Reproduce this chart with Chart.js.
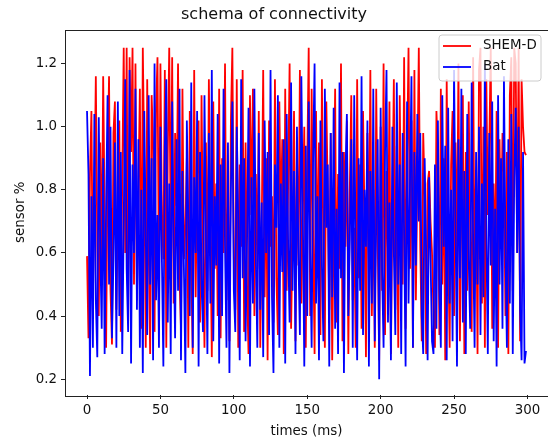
<!DOCTYPE html>
<html>
<head>
<meta charset="utf-8">
<script src="https://cdn.jsdelivr.net/npm/chart.js@4/dist/chart.umd.min.js"></script>
<style>
  html, body { margin: 0; padding: 0; background: #fff; }
  #wrap { width: 548px; height: 441px; }
</style>
</head>
<body>
<div id="wrap"><canvas id="conn" width="548" height="441"></canvas></div>
<script>
// values (times 0..299 ms)
var shemD = [
  0.59, 0.33, 0.85, 1.05, 0.45, 0.78, 1.16, 0.62, 0.40, 0.95,
  0.55, 1.16, 0.72, 0.30, 0.88, 1.16, 0.48, 0.31, 0.98, 1.08,
  0.42, 0.70, 1.02, 0.35, 0.84, 1.25, 0.60, 1.25, 0.38, 1.22,
  0.92, 1.25, 0.50, 1.20, 0.45, 0.80, 1.12, 0.36, 1.25, 0.88,
  0.30, 1.15, 0.62, 0.28, 1.10, 0.95, 0.35, 1.05, 1.22, 0.48,
  1.20, 0.72, 0.58, 1.18, 0.30, 0.92, 1.25, 0.66, 1.22, 0.44,
  0.98, 0.75, 1.20, 0.52, 0.36, 1.12, 0.58, 0.68, 0.90, 0.30,
  1.05, 0.55, 0.28, 1.18, 0.46, 0.85, 1.02, 0.38, 1.10, 0.62,
  0.30, 0.95, 0.48, 1.15, 0.70, 0.27, 1.08, 0.55, 0.82, 0.40,
  1.12, 0.33, 0.90, 0.60, 1.20, 0.45, 0.76, 0.32, 1.02, 1.25,
  0.58, 0.42, 1.15, 0.30, 0.88, 0.62, 1.18, 0.35, 0.95, 0.50,
  0.28, 1.10, 0.72, 1.12, 0.40, 0.85, 0.55, 1.05, 0.30, 0.68,
  1.18, 0.46, 0.90, 0.26, 1.02, 0.62, 0.78, 0.38, 1.15, 0.52,
  0.34, 1.08, 0.70, 0.96, 0.28, 1.12, 0.48, 0.82, 1.20, 0.36,
  0.65, 1.05, 0.32, 0.92, 0.56, 1.18, 0.44, 0.74, 1.00, 0.30,
  0.88, 1.25, 0.40, 1.12, 0.66, 0.28, 1.05, 0.52, 0.95, 0.34,
  1.15, 0.60, 0.30, 1.08, 0.78, 0.42, 0.98, 0.26, 0.70, 1.12,
  0.38, 0.85, 0.55, 1.20, 0.32, 0.92, 0.62, 1.02, 0.28, 0.80,
  1.10, 0.45, 0.68, 0.30, 1.15, 0.52, 0.88, 0.36, 1.05, 0.72,
  0.27, 0.98, 0.58, 1.18, 0.40, 0.80, 0.30, 1.12, 0.64, 0.26,
  1.00, 0.48, 1.20, 0.34, 0.86, 0.60, 1.08, 0.28, 0.75, 1.15,
  0.42, 0.94, 0.30, 1.10, 0.66, 0.50, 1.22, 0.36, 0.90, 1.25,
  0.55, 1.02, 0.30, 1.18, 0.45, 0.84, 1.25, 0.62, 0.32, 0.98,
  0.78, 0.28, 0.82, 0.86, 0.70, 0.60, 0.40, 0.30, 1.05, 0.92,
  0.34, 1.12, 0.50, 0.90, 0.26, 1.15, 0.62, 0.30, 0.88, 1.05,
  0.40, 0.95, 0.58, 1.20, 0.32, 0.78, 1.10, 0.28, 0.92, 0.48,
  1.08, 0.66, 0.35, 1.22, 0.52, 0.86, 0.28, 1.18, 1.25, 0.44,
  1.00, 0.30, 1.15, 0.72, 0.94, 1.25, 0.36, 0.82, 0.55, 1.05,
  0.30, 0.96, 0.62, 0.98, 0.85, 0.40, 0.92, 0.28, 1.10, 1.22,
  0.48, 1.25, 1.20, 0.60, 1.25, 0.32, 1.15, 1.00, 0.92, 0.91
];
var bat = [
  1.05, 0.85, 0.21, 0.78, 0.30, 1.04, 0.45, 0.27, 1.03, 0.62,
  0.36, 0.90, 0.28, 0.75, 1.10, 0.50, 1.00, 0.33, 0.58, 0.95,
  0.30, 1.08, 0.40, 0.92, 0.28, 0.70, 1.15, 0.55, 0.35, 1.18,
  0.25, 0.88, 0.60, 1.12, 0.42, 0.96, 0.30, 0.80, 0.22, 1.05,
  0.66, 0.34, 1.10, 0.50, 0.90, 0.26, 1.20, 0.45, 0.72, 0.30,
  1.00, 0.58, 0.24, 0.94, 1.15, 0.38, 0.82, 0.28, 1.08, 0.62,
  0.33, 0.96, 0.48, 1.12, 0.26, 0.86, 0.55, 0.22, 1.02, 0.70,
  0.40, 1.14, 0.30, 0.84, 0.60, 1.05, 0.24, 0.92, 0.50, 0.35,
  1.10, 0.66, 0.28, 0.98, 0.44, 1.18, 0.32, 0.78, 0.56, 1.04,
  0.25, 0.88, 0.40, 1.12, 0.62, 0.30, 0.95, 0.22, 0.80, 1.08,
  0.48, 0.35, 1.00, 0.70, 0.26, 1.15, 0.52, 0.90, 0.32, 0.64,
  1.06, 0.24, 0.84, 0.44, 1.12, 0.58, 0.30, 0.98, 0.42, 0.76,
  0.27, 1.02, 0.60, 0.92, 0.34, 1.18, 0.46, 0.22, 0.88, 0.68,
  1.10, 0.30, 0.82, 0.54, 0.96, 0.25, 1.04, 0.62, 0.38, 1.14,
  0.48, 0.86, 0.28, 1.00, 0.58, 0.34, 1.16, 0.72, 0.24, 0.94,
  0.40, 1.08, 0.60, 0.30, 0.90, 1.20, 0.44, 0.78, 0.26, 1.02,
  0.56, 0.32, 1.12, 0.68, 0.88, 0.24, 0.98, 0.46, 1.06, 0.36,
  0.74, 0.28, 1.14, 0.52, 0.92, 0.22, 0.84, 1.04, 0.40, 0.64,
  0.96, 0.30, 1.10, 0.58, 0.26, 0.90, 0.48, 1.16, 0.34, 0.80,
  0.62, 1.02, 0.24, 0.86, 0.44, 1.12, 0.32, 0.70, 0.96, 0.20,
  1.06, 0.54, 0.30, 0.92, 1.18, 0.38, 0.76, 0.26, 1.00, 0.60,
  0.34, 1.14, 0.50, 0.88, 0.28, 0.98, 0.66, 0.24, 1.08, 0.44,
  0.82, 1.16, 0.30, 0.92, 0.56, 1.04, 0.70, 0.98, 0.40, 0.28,
  0.90, 0.60, 0.26, 0.84, 0.58, 0.32, 0.28, 0.88, 0.36, 1.02,
  0.48, 0.30, 1.10, 0.62, 0.94, 0.26, 1.06, 0.44, 0.80, 0.32,
  1.18, 0.70, 0.24, 0.96, 0.52, 1.12, 0.38, 0.86, 0.28, 1.04,
  0.58, 0.36, 1.14, 0.64, 0.30, 0.92, 0.50, 1.00, 0.34, 0.82,
  0.46, 1.20, 0.66, 0.28, 0.98, 0.56, 1.08, 0.32, 0.74, 0.24,
  1.10, 0.50, 0.90, 0.36, 1.16, 0.62, 0.30, 0.96, 0.44, 1.04,
  0.28, 0.84, 1.06, 0.60, 1.00, 0.42, 0.26, 0.92, 0.25, 0.29
];
var seriesNames = ['SHEM-D', 'Bat'];
var xTicks = [0, 50, 100, 150, 200, 250, 300];
var yTicks = [0.2, 0.4, 0.6, 0.8, 1.0, 1.2];

var FONT = 'DejaVu Sans';

function toPoints(arr) {
  return arr.map(function(v, i) { return {x: i, y: v}; });
}

// matplotlib-like frame + legend box in the upper right
var frameAndLegend = {
  id: 'frameAndLegend',
  afterDraw: function(chart) {
    var ctx = chart.ctx, a = chart.chartArea;
    ctx.save();
    ctx.strokeStyle = '#222';
    ctx.lineWidth = 1;
    ctx.strokeRect(Math.round(a.left) + 0.5, Math.round(a.top) + 0.5,
                   Math.round(a.right - a.left), Math.round(a.bottom - a.top));

    var bx = 439, by = 35, bw = 102, bh = 46, r = 3;
    ctx.beginPath();
    ctx.moveTo(bx + r, by);
    ctx.arcTo(bx + bw, by, bx + bw, by + bh, r);
    ctx.arcTo(bx + bw, by + bh, bx, by + bh, r);
    ctx.arcTo(bx, by + bh, bx, by, r);
    ctx.arcTo(bx, by, bx + bw, by, r);
    ctx.closePath();
    ctx.fillStyle = 'rgba(255,255,255,0.8)';
    ctx.fill();
    ctx.strokeStyle = '#cccccc';
    ctx.stroke();

    var cols = ['#ff0000', '#0000ff'];
    ctx.font = '13.4px "' + FONT + '"';
    ctx.textBaseline = 'middle';
    ctx.textAlign = 'left';
    seriesNames.forEach(function(name, i) {
      var y = 46 + i * 21;
      ctx.strokeStyle = cols[i];
      ctx.lineWidth = 1.8;
      ctx.beginPath();
      ctx.moveTo(443, y);
      ctx.lineTo(471, y);
      ctx.stroke();
      ctx.fillStyle = '#111';
      ctx.fillText(name, 483, y);
    });
    ctx.restore();
  }
};

new Chart('conn', {
  type: 'line',
  data: {
    datasets: [
      {
        label: seriesNames[0],
        data: toPoints(shemD),
        borderColor: '#ff0000',
        borderWidth: 1.8,
        pointRadius: 0,
        tension: 0,
        order: 1
      },
      {
        label: seriesNames[1],
        data: toPoints(bat),
        borderColor: '#0000ff',
        borderWidth: 1.8,
        pointRadius: 0,
        tension: 0,
        order: 0
      }
    ]
  },
  options: {
    responsive: false,
    animation: false,
    layout: { padding: { left: 0, right: 0, top: 0, bottom: 0 } },
    plugins: {
      legend: { display: false },
      tooltip: { enabled: false },
      title: {
        display: true,
        text: 'schema of connectivity',
        color: '#111',
        font: { family: FONT, size: 16, weight: 'normal' },
        padding: { top: 5, bottom: 5.3 }
      }
    },
    scales: {
      x: {
        type: 'linear',
        min: -15,
        max: 314,
        afterBuildTicks: function(s) { s.ticks = xTicks.map(function(v) { return {value: v}; }); },
        afterFit: function(s) { s.height = 46; },
        grid: { drawOnChartArea: false, tickLength: 4, tickColor: '#222' },
        border: { display: false },
        ticks: { color: '#111', padding: 3, maxRotation: 0, font: { family: FONT, size: 13.4 } },
        title: { display: true, text: 'times (ms)', color: '#111',
                 font: { family: FONT, size: 13.4 }, padding: { top: 0, bottom: 1 } }
      },
      y: {
        min: 0.15,
        max: 1.308,
        afterBuildTicks: function(s) { s.ticks = yTicks.map(function(v) { return {value: v}; }); },
        afterFit: function(s) { s.width = 65; },
        grid: { drawOnChartArea: false, tickLength: 4, tickColor: '#222' },
        border: { display: false },
        ticks: { color: '#111', padding: 4, font: { family: FONT, size: 13.4 },
                 callback: function(v) { return v.toFixed(1); } },
        title: { display: true, text: 'sensor %', color: '#111',
                 font: { family: FONT, size: 13.4 }, padding: { top: 12, bottom: 0 } }
      }
    }
  },
  plugins: [frameAndLegend]
});
</script>
</body>
</html>
